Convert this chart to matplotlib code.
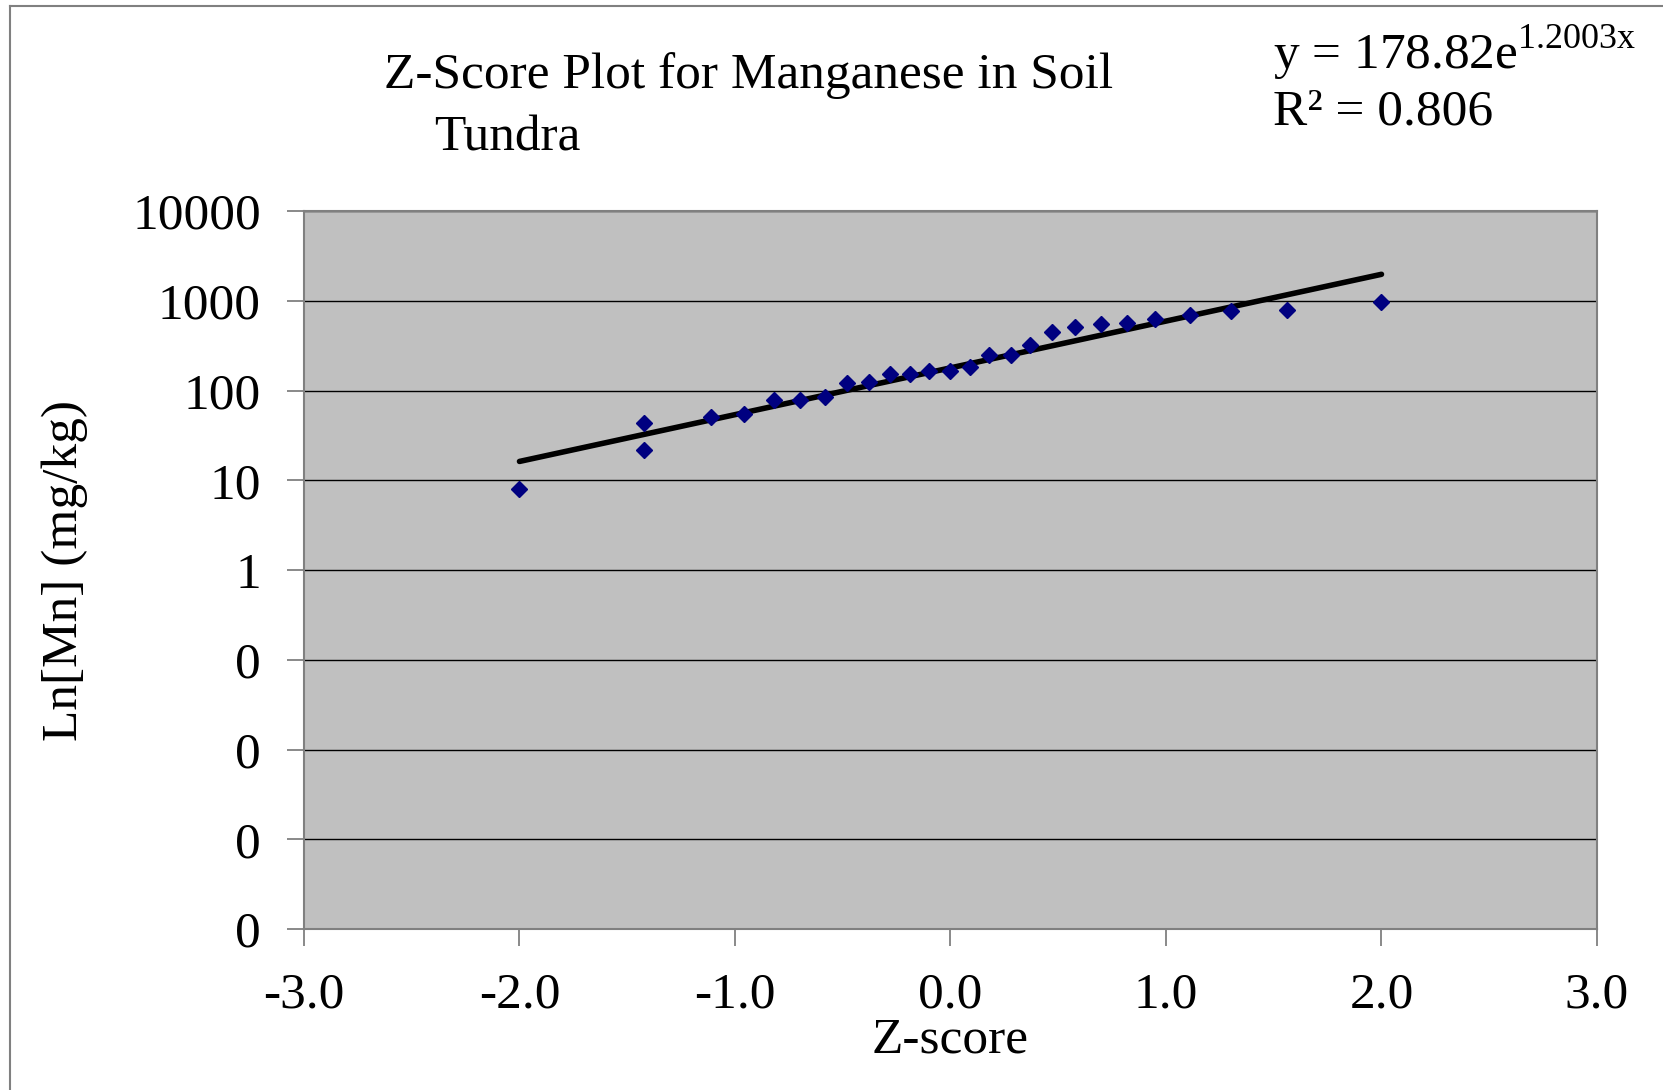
import numpy as np
import matplotlib
matplotlib.use("Agg")
from matplotlib import pyplot as plt
from matplotlib.lines import Line2D
from matplotlib.ticker import FixedLocator, FixedFormatter


# z-score / Mn values
z_scores = [-2.00, -1.42, -1.42, -1.11, -0.96, -0.82, -0.70, -0.58, -0.48,
            -0.38, -0.28, -0.19, -0.10, 0.00, 0.09, 0.18, 0.28, 0.37, 0.47,
            0.58, 0.70, 0.82, 0.95, 1.11, 1.30, 1.56, 2.00]
mn_values = [8, 43, 22, 51, 55, 78, 78, 84, 120, 124, 152, 153, 165, 165,
             182, 246, 246, 322, 452, 514, 551, 561, 631, 689, 769, 783, 968]

# exponential trend line as printed on the chart
TREND_A = 178.82
TREND_B = 1.2003
trend_x = [-2.0, 2.0]

y_ticks = [0.0001, 0.001, 0.01, 0.1, 1, 10, 100, 1000, 10000]
y_tick_labels = ["0", "0", "0", "0", "1", "10", "100", "1000", "10000"]
x_ticks = [-3, -2, -1, 0, 1, 2, 3]
x_tick_labels = ["-3.0", "-2.0", "-1.0", "0.0", "1.0", "2.0", "3.0"]

SERIF = "Liberation Serif"
FS = 37


def main():
    plt.rcParams['font.family'] = SERIF
    fig = plt.figure(figsize=(16.63, 10.90), dpi=100)
    ax = fig.add_axes([0.1828, 0.1477, 0.7775, 0.6587])

    ax.set_facecolor("#C0C0C0")
    ax.set_yscale("log")
    ax.set_xlim(-3, 3)
    ax.set_ylim(0.0001, 10000)

    ax.yaxis.set_major_locator(FixedLocator(y_ticks))
    ax.yaxis.set_major_formatter(FixedFormatter(y_tick_labels))
    ax.yaxis.set_minor_locator(FixedLocator([]))
    ax.xaxis.set_major_locator(FixedLocator(x_ticks))
    ax.xaxis.set_major_formatter(FixedFormatter(x_tick_labels))

    ax.grid(axis="y", color="black", linewidth=1.0)
    ax.set_axisbelow(True)

    for side in ax.spines.values():
        side.set_color("#808080")
        side.set_linewidth(1.5)

    ax.tick_params(axis="both", direction="out", length=12, width=1.3,
                   color="#808080", labelsize=FS)
    ax.tick_params(axis="x", pad=19)
    ax.tick_params(axis="y", pad=19)

    tx = np.linspace(trend_x[0], trend_x[1], 50)
    ax.plot(tx, TREND_A * np.exp(TREND_B * tx), color="black", linewidth=4.0,
            solid_capstyle="round", zorder=3)
    ax.plot(z_scores, mn_values, linestyle="none", marker="D", markersize=8.5,
            color="#000080", zorder=4)

    ax.set_xlabel("Z-score", fontsize=FS, labelpad=-1)
    ax.set_ylabel("Ln[Mn] (mg/kg)", fontsize=FS, labelpad=32)

    fig.text(0.450, 0.931, "Z-Score Plot for Manganese in Soil", fontsize=FS,
             ha="center", va="center")
    fig.text(0.305, 0.873, "Tundra", fontsize=FS, ha="center", va="center")

    fig.text(0.7655, 0.951, r"y = 178.82e$^{\mathregular{1.2003x}}$",
             fontsize=FS, ha="left", va="center")
    fig.text(0.7655, 0.897, "R² = 0.806", fontsize=FS, ha="left", va="center")

    # chart-area border (left and top edges visible)
    fig.add_artist(Line2D([0.006, 0.006], [0.0, 0.9945], color="#808080",
                          linewidth=1.5, transform=fig.transFigure))
    fig.add_artist(Line2D([0.006, 1.0], [0.9945, 0.9945], color="#808080",
                          linewidth=1.5, transform=fig.transFigure))

    fig.savefig("out.png", dpi=100)


if __name__ == "__main__":
    main()
